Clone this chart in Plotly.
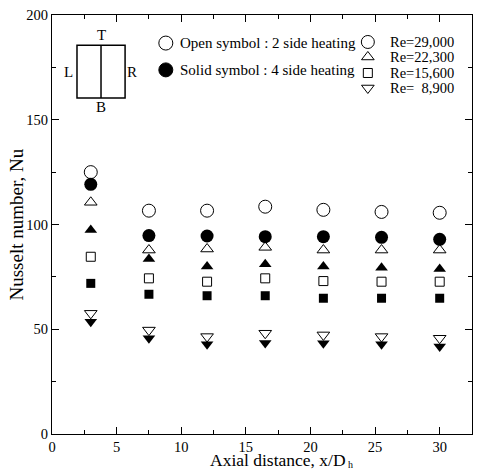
import plotly.graph_objects as go

# ---- data ----
x_pos = [3, 7.5, 12, 16.5, 21, 25.5, 30]
re_labels = ["Re=29,000", "Re=22,300", "Re=15,600", "Re=\u00a0\u00a08,900"]
# 2 side heating (open symbols)
open_29000 = [125, 106.6, 106.6, 108.5, 107, 106, 105.6]
open_22300 = [110.6, 87.8, 88.3, 89.1, 87.8, 87.8, 87.8]
open_15600 = [84.6, 74.3, 72.7, 74.3, 73.0, 72.7, 72.7]
open_8900 = [57.6, 49.6, 46.5, 48.1, 47.3, 46.5, 45.7]
# 4 side heating (solid symbols)
solid_29000 = [119.2, 94.7, 94.5, 94.2, 94.2, 93.9, 92.9]
solid_22300 = [97.4, 83.5, 79.9, 81.0, 79.9, 79.4, 78.8]
solid_15600 = [71.9, 66.7, 66.0, 66.0, 64.8, 64.8, 64.8]
solid_8900 = [53.6, 45.7, 42.8, 43.4, 43.3, 42.8, 41.8]

x_ticks = [0, 5, 10, 15, 20, 25, 30]
y_ticks = [0, 50, 100, 150, 200]

FONT = "Liberation Serif, Times New Roman, serif"
symbols = ["circle", "triangle-up", "square", "triangle-down"]
sizes = [13, 11, 9, 11]
open_series = [open_29000, open_22300, open_15600, open_8900]
solid_series = [solid_29000, solid_22300, solid_15600, solid_8900]

fig = go.Figure()
for sym, sz, ys in zip(symbols, sizes, open_series):
    fig.add_trace(go.Scatter(x=x_pos, y=ys, mode="markers", showlegend=False,
                             marker=dict(symbol=sym + "-open", size=sz, color="black",
                                         line=dict(color="black", width=1))))
for sym, sz, ys in zip(symbols, sizes, solid_series):
    fig.add_trace(go.Scatter(x=x_pos, y=ys, mode="markers", showlegend=False,
                             marker=dict(symbol=sym, size=sz, color="black",
                                         line=dict(color="black", width=0))))

# ---- custom legend on an overlay axis (0..1 paper-like) ----
leg_heat_x = 0.271
leg_heat_y = [0.933, 0.869]
leg_heat_sym = ["circle-open", "circle"]
leg_heat_txt = ["Open symbol : 2 side heating", "Solid symbol : 4 side heating"]
for yy, s in zip(leg_heat_y, leg_heat_sym):
    fig.add_trace(go.Scatter(x=[leg_heat_x], y=[yy], xaxis="x2", yaxis="y2", mode="markers",
                             showlegend=False,
                             marker=dict(symbol=s, size=14, color="black",
                                         line=dict(color="black", width=1))))
for yy, t in zip(leg_heat_y, leg_heat_txt):
    fig.add_annotation(x=0.3, y=yy, xref="paper", yref="paper", text=t, showarrow=False,
                       xanchor="left", yanchor="middle", font=dict(family=FONT, size=15, color="black"))

leg_re_x = 0.752
leg_re_y = [0.9356, 0.8998, 0.8616, 0.8258]
leg_re_sizes = [13, 11, 9, 11]
for yy, s, sz in zip(leg_re_y, symbols, leg_re_sizes):
    fig.add_trace(go.Scatter(x=[leg_re_x], y=[yy], xaxis="x2", yaxis="y2", mode="markers",
                             showlegend=False,
                             marker=dict(symbol=s + "-open", size=sz, color="black",
                                         line=dict(color="black", width=1))))
for yy, t in zip(leg_re_y, re_labels):
    fig.add_annotation(x=0.8, y=yy, xref="paper", yref="paper", text=t, showarrow=False,
                       xanchor="left", yanchor="middle", font=dict(family=FONT, size=14.5, color="black"))

# ---- channel sketch ----
bx0, bx1, bxm = 0.0595, 0.174, 0.1167
by0, by1 = 0.802, 0.928
fig.add_shape(type="rect", xref="paper", yref="paper", x0=bx0, x1=bx1, y0=by0, y1=by1,
              line=dict(color="black", width=1.5))
fig.add_shape(type="line", xref="paper", yref="paper", x0=bxm, x1=bxm, y0=by0, y1=by1,
              line=dict(color="black", width=1.5))
for t, xx, yy in [("T", bxm, 0.952), ("B", bxm, 0.780), ("L", 0.04, 0.865), ("R", 0.19, 0.865)]:
    fig.add_annotation(x=xx, y=yy, xref="paper", yref="paper", text=t, showarrow=False,
                       xanchor="center", yanchor="middle", font=dict(family=FONT, size=15, color="black"))

# ---- axis titles ----
fig.add_annotation(x=0.7024, y=-0.0835, xref="paper", yref="paper", yshift=-2,
                   text="Axial distance, x/D", showarrow=False, borderpad=0,
                   xanchor="right", yanchor="bottom", font=dict(family=FONT, size=17.5, color="black"))
fig.add_annotation(x=0.7024, y=-0.0835, xref="paper", yref="paper", yshift=-2,
                   text="h", showarrow=False, borderpad=0,
                   xanchor="left", yanchor="bottom", font=dict(family=FONT, size=10, color="black"))
fig.add_annotation(x=0, y=0.5, xref="paper", yref="paper", xshift=-36,
                   text="Nusselt number, Nu", showarrow=False, textangle=-90,
                   xanchor="center", yanchor="middle", font=dict(family=FONT, size=19, color="black"))

axis_common = dict(showgrid=False, zeroline=False, showline=True, linecolor="black", linewidth=1,
                   mirror="ticks", ticks="inside", ticklen=7, tickcolor="black", tickwidth=1,
                   tickfont=dict(family=FONT, size=14.5, color="black"))
fig.update_layout(
    width=477, height=469,
    margin=dict(l=52, r=5, t=15, b=35),
    paper_bgcolor="white", plot_bgcolor="white",
    xaxis=dict(range=[0, 32.5], tickvals=x_ticks,
               minor=dict(dtick=2.5, ticks="inside", ticklen=4, tickcolor="black"),
               **axis_common),
    yaxis=dict(range=[0, 200], tickvals=y_ticks,
               minor=dict(dtick=25, ticks="inside", ticklen=4, tickcolor="black"),
               **axis_common),
    xaxis2=dict(overlaying="x", range=[0, 1], visible=False),
    yaxis2=dict(overlaying="y", range=[0, 1], visible=False),
)

fig.write_html("out.html")
